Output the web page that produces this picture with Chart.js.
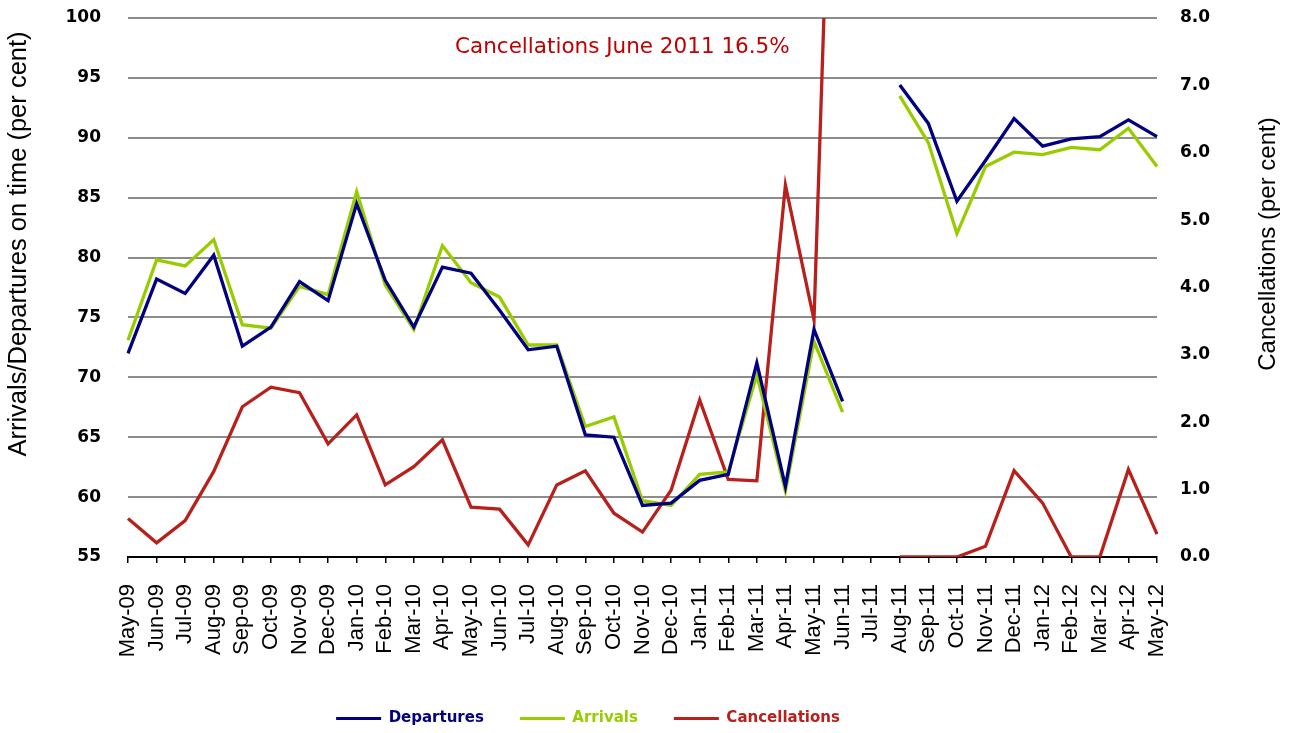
<!DOCTYPE html>
<html>
<head>
<meta charset="utf-8">
<script src="https://cdn.jsdelivr.net/npm/chart.js@4"></script>
<style>
  html, body { margin: 0; padding: 0; background: #fff; }
  #wrap { width: 1290px; height: 733px; }
</style>
</head>
<body>
<div id="wrap"><canvas id="chart" width="1290" height="733"></canvas></div>
<script>
const months = ['May-09','Jun-09','Jul-09','Aug-09','Sep-09','Oct-09','Nov-09','Dec-09',
  'Jan-10','Feb-10','Mar-10','Apr-10','May-10','Jun-10','Jul-10','Aug-10','Sep-10','Oct-10','Nov-10','Dec-10',
  'Jan-11','Feb-11','Mar-11','Apr-11','May-11','Jun-11','Jul-11','Aug-11','Sep-11','Oct-11','Nov-11','Dec-11',
  'Jan-12','Feb-12','Mar-12','Apr-12','May-12'];

const departures = [72.0, 78.2, 77.0, 80.2, 72.6, 74.2, 78.0, 76.4, 84.5, 78.1, 74.2, 79.2,
  78.7, 75.6, 72.3, 72.6, 65.2, 65.0, 59.3, 59.5, 61.4, 61.9, 71.2, 60.9, 74.0, 68.0,
  null, 94.4, 91.2, 84.7, 88.1, 91.6, 89.3, 89.9, 90.1, 91.5, 90.1];

const arrivals = [73.1, 79.8, 79.3, 81.5, 74.4, 74.1, 77.6, 76.9, 85.5, 77.7, 74.0, 81.0,
  77.9, 76.7, 72.7, 72.7, 65.9, 66.7, 59.7, 59.3, 61.9, 62.1, 70.2, 60.5, 73.0, 67.1,
  null, 93.5, 89.6, 82.0, 87.6, 88.8, 88.6, 89.2, 89.0, 90.8, 87.6];

const cancellations = [0.57, 0.21, 0.54, 1.27, 2.23, 2.52, 2.44, 1.68, 2.11, 1.07, 1.34, 1.74,
  0.74, 0.71, 0.18, 1.07, 1.28, 0.65, 0.37, 0.99, 2.33, 1.15, 1.13, 5.52, 3.52, 16.5,
  null, 0.0, 0.0, 0.0, 0.16, 1.28, 0.80, 0.0, 0.0, 1.30, 0.34];

const noteText = 'Cancellations June 2011 16.5%';
const leftTitle = 'Arrivals/Departures on time (per cent)';
const rightTitle = 'Cancellations (per cent)';

function sideText(ctx, text, x, y, font) {
  ctx.save();
  ctx.translate(x, y);
  ctx.rotate(-Math.PI / 2);
  ctx.font = font;
  ctx.fillStyle = '#000';
  ctx.textAlign = 'center';
  ctx.textBaseline = 'middle';
  ctx.fillText(text, 0, 0);
  ctx.restore();
}

// note text, axis titles, legend nudge
const extras = {
  id: 'extras',
  afterLayout(chart) {
    const lg = chart.legend;
    const dx = -57;
    lg.left += dx; lg.right += dx;
    const dy = 675 - lg.top;
    lg.top += dy; lg.bottom += dy;
  },
  afterDraw(chart) {
    const { ctx, chartArea } = chart;
    ctx.save();
    ctx.font = '21.5px "DejaVu Sans"';
    ctx.fillStyle = '#c00000';
    ctx.textBaseline = 'alphabetic';
    ctx.fillText(noteText, chartArea.left + 327, chartArea.top + 35);
    ctx.restore();
    const midY = chartArea.top + 226;
    sideText(ctx, leftTitle, 19, midY, '25.5px "Liberation Sans"');
    sideText(ctx, rightTitle, 1268, midY, '24px "Liberation Sans"');
  }
};

new Chart(document.getElementById('chart'), {
  type: 'line',
  data: {
    labels: months,
    datasets: [
      { label: 'Departures', data: departures, borderColor: '#000080', yAxisID: 'y' },
      { label: 'Arrivals', data: arrivals, borderColor: '#99cc00', yAxisID: 'y' },
      { label: 'Cancellations', data: cancellations, borderColor: '#b8201c', yAxisID: 'y1' }
    ]
  },
  options: {
    responsive: false,
    animation: false,
    spanGaps: false,
    layout: { padding: { top: 18, left: 0, right: 0, bottom: 0 } },
    elements: {
      line: { borderWidth: 3.3, tension: 0 },
      point: { radius: 0 }
    },
    plugins: {
      tooltip: { enabled: false },
      legend: {
        position: 'bottom',
        labels: {
          boxWidth: 45,
          boxHeight: 3,
          padding: 36,
          font: { family: '"DejaVu Sans"', size: 15, weight: 'bold' },
          generateLabels(chart) {
            const items = Chart.defaults.plugins.legend.labels.generateLabels(chart);
            items.forEach(it => {
              it.fillStyle = it.strokeStyle;
              it.fontColor = it.strokeStyle;
              it.lineWidth = 0;
            });
            return items;
          }
        }
      }
    },
    scales: {
      x: {
        offset: false,
        grid: { drawOnChartArea: false, drawTicks: true, tickLength: 6, color: '#000', lineWidth: 1.5 },
        border: { display: true, color: '#000', width: 2 },
        ticks: {
          autoSkip: false, minRotation: 90, maxRotation: 90, padding: 21,
          color: '#000', font: { family: '"Liberation Sans"', size: 22 }
        },
        afterFit(s) { s.height = 176 - (s.chart.legend ? s.chart.legend.height : 0); }
      },
      y: {
        position: 'left',
        min: 55, max: 100,
        grid: { color: '#8c8c8c', lineWidth: 2, tickLength: 27, tickColor: 'rgba(0,0,0,0)' },
        border: { display: false },
        ticks: {
          stepSize: 5, padding: 0, color: '#000',
          font: { family: '"DejaVu Sans"', size: 17, weight: 'bold' }
        },
        afterFit(s) { s.width = 128; }
      },
      y1: {
        position: 'right',
        min: 0, max: 8,
        grid: { drawOnChartArea: false, drawTicks: true, tickLength: 23, tickColor: 'rgba(0,0,0,0)' },
        border: { display: false },
        ticks: {
          stepSize: 1, padding: 0, color: '#000',
          font: { family: '"DejaVu Sans"', size: 17, weight: 'bold' },
          callback: v => v.toFixed(1)
        },
        afterFit(s) { s.width = 133; }
      }
    }
  },
  plugins: [extras]
});
</script>
</body>
</html>
